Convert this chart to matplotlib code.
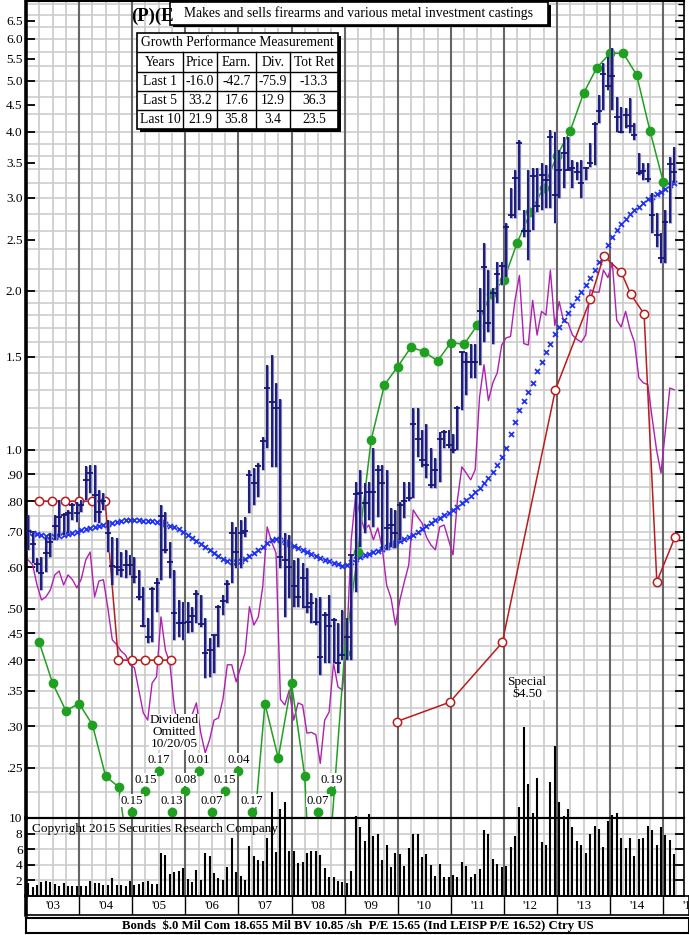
import numpy as np
import matplotlib.pyplot as plt
from matplotlib.patches import Rectangle
from matplotlib.ticker import FixedLocator
from matplotlib.transforms import blended_transform_factory

plt.rcParams['font.family'] = ['Liberation Serif', 'DejaVu Serif']

#%% monthly price bars, Jan 2003 .. Mar 2015
high = [.753, .696, .624, .627, .681, .696, .753, .804, .760, .770, .794, .797,
        .804, .933, .937, .937, .840, .830, .737, .684, .681, .641, .647, .633,
        .627, .593, .550, .481, .550, .573, .787, .763, .669, .593, .520, .515,
        .515, .505, .543, .531, .481, .441, .446, .509, .531, .567, .730, .715,
        .737, .747, .916, .925, .945, 1.06, 1.45, 1.51, 1.34, 1.25, .696, .690,
        .619, .624, .611, .598, .536, .525, .527, .494, .531, .481, .470, .498,
        .481, .633, .870, .916, .866, .870, 1.01, .937, .937, .916, .777, .770,
        .797, .870, .870, 1.20, 1.20, 1.09, 1.12, 1.01, .966, 1.08, 1.09, 1.09,
        1.07, 1.21, 1.53, 1.53, 1.59, 1.59, 2.03, 2.47, 2.19, 2.03, 2.27, 2.27,
        2.69, 3.13, 3.39, 3.86, 2.85, 3.39, 3.42, 3.42, 3.50, 3.47, 4.04, 4.00,
        3.70, 3.91, 3.91, 3.54, 3.51, 3.54, 3.44, 3.81, 4.17, 4.70, 5.41, 5.54,
        5.77, 4.66, 4.46, 4.44, 4.64, 4.16, 3.65, 3.50, 3.50, 3.07, 2.81, 2.57,
        2.85, 3.59, 3.75]
low = [.647, .611, .588, .543, .588, .627, .675, .684, .690, .696, .737, .730,
       .763, .804, .829, .730, .727, .770, .641, .555, .580, .575, .572, .580,
       .560, .520, .463, .431, .433, .493, .567, .638, .573, .437, .443, .437,
       .451, .452, .470, .463, .370, .372, .378, .424, .487, .513, .560, .598,
       .598, .684, .760, .787, .815, .916, 1.01, .929, .929, .598, .483, .525,
       .505, .505, .502, .491, .470, .466, .375, .395, .395, .395, .378, .400,
       .400, .400, .538, .655, .696, .737, .715, .747, .647, .647, .655, .652,
       .675, .743, .801, .811, .970, .929, .885, .847, .847, .870, 1.01, 1.01,
       .987, 1.00, 1.19, 1.27, 1.37, 1.37, 1.45, 1.60, 1.67, 1.59, 1.90, 2.05,
       2.13, 2.75, 2.75, 2.85, 2.53, 2.29, 2.61, 2.82, 2.85, 2.87, 2.87, 2.69,
       3.00, 3.13, 3.39, 3.13, 3.25, 3.00, 3.25, 3.44, 3.47, 4.16, 4.41, 4.81,
       4.41, 4.00, 3.98, 4.07, 3.98, 3.86, 3.31, 3.25, 3.22, 2.57, 2.42, 2.26,
       2.26, 2.69, 3.20]
close = [.703, .663, .608, .585, .638, .669, .718, .747, .753, .760, .787, .760,
         .787, .877, .904, .822, .763, .800, .696, .603, .600, .593, .605, .605,
         .575, .527, .465, .443, .546, .560, .750, .647, .614, .491, .470, .470,
         .472, .485, .534, .468, .413, .418, .446, .505, .518, .558, .696, .641,
         .696, .703, .897, .866, .933, 1.04, 1.31, 1.23, 1.20, .627, .619, .600,
         .553, .527, .573, .505, .513, .472, .406, .487, .465, .477, .395, .409,
         .443, .633, .826, .829, .794, .833, .833, .916, .866, .712, .721, .696,
         .787, .801, .811, 1.12, 1.05, .957, .937, .858, .916, 1.05, 1.08, 1.02,
         1.00, 1.20, 1.53, 1.47, 1.47, 1.47, 1.83, 2.22, 1.74, 1.98, 2.15, 2.23,
         2.64, 2.79, 3.27, 3.81, 2.60, 2.60, 3.30, 2.90, 3.31, 3.24, 3.91, 3.04,
         3.39, 3.65, 3.39, 3.42, 3.36, 3.20, 3.42, 3.50, 4.15, 4.39, 5.15, 4.89,
         5.10, 4.27, 4.00, 4.31, 4.11, 3.95, 3.34, 3.38, 3.26, 2.79, 2.55, 2.31,
         2.70, 3.48, 3.36]

# moving average (blue x) and relative strength (magenta), monthly
avg = [.700, .696, .693, .690, .687, .687, .684, .687, .690, .693, .696, .700,
       .706, .709, .712, .715, .718, .721, .724, .727, .731, .734, .737, .737,
       .737, .737, .734, .734, .734, .731, .731, .724, .718, .715, .709, .700,
       .690, .682, .673, .664, .655, .647, .638, .630, .622, .616, .614, .614,
       .616, .622, .630, .638, .647, .655, .667, .676, .679, .676, .670, .664,
       .658, .653, .647, .641, .636, .630, .625, .619, .616, .611, .608, .603,
       .606, .614, .622, .627, .633, .636, .641, .644, .650, .655, .661, .667,
       .673, .679, .684, .690, .700, .709, .718, .727, .737, .744, .753, .760,
       .770, .780, .794, .804, .818, .833, .847, .866, .885, .909, .937, .970,
       1.01, 1.07, 1.13, 1.19, 1.24, 1.29, 1.34, 1.41, 1.47, 1.53, 1.59, 1.66,
       1.71, 1.76, 1.82, 1.88, 1.94, 1.99, 2.05, 2.12, 2.19, 2.27, 2.34, 2.44,
       2.53, 2.61, 2.68, 2.74, 2.80, 2.85, 2.88, 2.94, 2.99, 3.01, 3.05, 3.08,
       3.12, 3.18, 3.20]
rel = [.619, .606, .555, .520, .527, .543, .580, .590, .555, .580, .568, .548,
       .570, .619, .641, .527, .565, .568, .502, .437, .428, .416, .409, .392,
       .387, .351, .318, .308, .362, .372, .483, .418, .395, .327, .295, .277,
       .289, .315, .332, .291, .267, .283, .308, .311, .337, .392, .392, .364,
       .388, .413, .505, .466, .483, .551, .715, .670, .638, .337, .329, .351,
       .308, .332, .329, .291, .292, .289, .255, .308, .319, .395, .356, .351,
       .437, .676, .822, .753, .706, .721, .676, .712, .653, .555, .524, .466,
       .520, .563, .606, .770, .747, .727, .684, .661, .647, .715, .721, .676,
       .633, .804, .929, .904, .878, .917, 1.26, 1.45, 1.24, 1.34, 1.40, 1.58,
       1.63, 1.64, 1.92, 2.14, 1.59, 1.58, 1.92, 1.65, 1.83, 1.80, 2.19, 1.72,
       1.91, 1.75, 1.74, 1.65, 1.62, 1.60, 1.65, 2.01, 1.99, 1.99, 2.19, 2.12,
       2.26, 1.76, 1.71, 1.83, 1.69, 1.60, 1.37, 1.34, 1.33, 1.15, 1.00, .904,
       1.09, 1.31, 1.30]

# monthly volume (millions)
volume = [1.7, 1.15, 1.45, 1.8, 1.9, 1.8, 1.6, 1.3, 1.7, 1.3, 1.3, 1.3,
          1.3, 1.3, 1.9, 1.7, 1.7, 1.45, 1.45, 2.3, 1.45, 1.45, 1.3, 1.9,
          1.45, 1.6, 1.75, 1.9, 1.5, 1.6, 5.5, 5.3, 2.8, 3.1, 3.2, 3.6,
          2.2, 1.8, 3.3, 2.0, 5.5, 5.1, 3.0, 2.3, 2.0, 3.7, 7.5, 3.1,
          2.6, 2.0, 6.4, 5.1, 4.6, 4.5, 7.4, 13.3, 5.7, 11.1, 12.0, 5.8,
          5.8, 4.2, 4.3, 5.5, 5.8, 5.8, 5.3, 3.6, 2.4, 2.4, 1.9, 1.8,
          1.7, 3.2, 10.3, 8.8, 7.1, 10.5, 7.7, 7.9, 4.6, 6.6, 3.7, 5.5,
          5.4, 3.8, 6.2, 7.9, 7.9, 5.0, 5.4, 4.0, 2.6, 4.1, 2.5, 2.5,
          2.7, 2.5, 4.3, 3.8, 2.4, 2.8, 3.4, 8.4, 8.0, 4.7, 4.1, 3.7,
          3.9, 6.3, 7.7, 11.4, 21.7, 14.3, 10.7, 15.1, 6.9, 6.5, 14.6, 19.2,
          12.0, 10.2, 11.1, 8.8, 7.0, 6.6, 5.5, 8.0, 9.0, 8.6, 6.3, 9.6,
          10.4, 10.6, 7.4, 6.2, 7.4, 5.1, 7.3, 7.4, 9.0, 8.4, 6.6, 8.8,
          7.8, 7.2, 5.4]

# quarterly earnings, Mar 2003 .. Dec 2014
eps = [.432, .362, .321, .331, .302, .241, .230, .15, .15, .17, .13, .08,
       .01, .07, .15, .04, .17, .331, .261, .362, .241, .07, .19, .412,
       .642, 1.045, 1.328, 1.438, 1.565, 1.535, 1.474, 1.596, 1.585, 1.724, 1.974, 2.098,
       2.469, 2.818, 3.140, 3.607, 4.023, 4.735, 5.294, 5.637, 5.637, 5.128, 4.023, 3.221]

# dividends (annual rate)
div_t1 = [2003.24, 2003.49, 2003.74, 2003.99, 2004.24, 2004.49,
          2004.74, 2004.99, 2005.24, 2005.49, 2005.74]
div_v1 = [.80, .80, .80, .80, .80, .80, .40, .40, .40, .40, .40]
div_omit_t = 2005.80
div_t2 = [2009.98, 2010.98, 2011.97, 2012.97, 2013.63, 2013.88,
          2014.21, 2014.39, 2014.64, 2014.88, 2015.22]
div_v2 = [.306, .333, .432, 1.30, 1.93, 2.33, 2.17, 1.97, 1.81, .563, .683]

years = ["'03", "'04", "'05", "'06", "'07", "'08", "'09", "'10",
         "'11", "'12", "'13", "'14", "'15"]
price_ticks = [6.5, 6.0, 5.5, 5.0, 4.5, 4.0, 3.5, 3.0, 2.5, 2.0, 1.5, 1.0,
               .90, .80, .70, .60, .50, .45, .40, .35, .30, .25]
price_labels = ['6.5', '6.0', '5.5', '5.0', '4.5', '4.0', '3.5', '3.0', '2.5',
                '2.0', '1.5', '1.0', '.90', '.80', '.70', '.60', '.50', '.45',
                '.40', '.35', '.30', '.25']
vol_ticks = [2, 4, 6, 8, 10]

growth_cols = ['Years', 'Price', 'Earn.', 'Div.', 'Tot Ret']
growth_rows = ['Last 1', 'Last 5', 'Last 10']
growth_price = [-16.0, 33.2, 21.9]
growth_earn = [-42.7, 17.6, 35.8]
growth_div = [-75.9, 12.9, 3.4]
growth_tot = [-13.3, 36.3, 23.5]

t_month = 2003 + (np.arange(len(high)) + 0.5) / 12
t_qtr = 2003.25 + 0.25 * np.arange(len(eps))

#%% figure layout (pixel boxes)
W, H = 689, 935
fig = plt.figure(figsize=(W / 100, H / 100), dpi=100)


def box(l, t, r, b):
    return [l / W, 1 - b / H, (r - l) / W, (b - t) / H]


PX_YEAR = 53.1
x0 = 2003.0
x1 = x0 + 658 / PX_YEAR
light = '#c9c9c9'
dark = '#666666'
navy = '#14147a'
green = '#20a020'
red = '#b81c1c'
purple = '#b020b0'

#%% price panel
ax = fig.add_axes(box(26, 1, 684, 818))
ax.set_yscale('log')
ax.set_ylim(0.201, 7.08)
ax.set_xlim(x0, x1)
ax.set_zorder(1)

grid_vals = np.concatenate([np.arange(0.2, 0.7, 0.025), np.arange(0.7, 1.0, 0.05),
                            np.arange(1.0, 2.0, 0.1), np.arange(2.0, 4.0, 0.2),
                            np.arange(4.0, 7.2, 1 / 3)])
for g in grid_vals:
    ax.axhline(g, color=light, lw=1.1, zorder=0.5)
for q in np.arange(x0 + 0.25, x1, 0.25):
    if abs(q - round(q)) < 1e-6:
        ax.axvline(q, color=dark, lw=1.5, zorder=0.6)
    else:
        ax.axvline(q, color=light, lw=1.2, zorder=0.5)

ax.set_yticks(price_ticks, labels=price_labels)
ax.yaxis.set_minor_locator(FixedLocator(grid_vals))
ax.set_xticks([])
ax.tick_params(axis='y', which='major', direction='in', length=6.5, width=1.3,
               right=True, labelsize=9.5, pad=2.5)
ax.tick_params(axis='y', which='minor', direction='in', length=4, width=1.0,
               left=False, right=True, labelleft=False)
ax.spines['left'].set_linewidth(2.6)
ax.spines['top'].set_linewidth(1.5)
ax.spines['right'].set_linewidth(1.2)
ax.spines['bottom'].set_linewidth(1.5)

# relative strength and moving average
ax.plot(t_month, rel, color=purple, lw=1.0, zorder=2)
ax.plot(t_month, avg, ls='none', marker='x', ms=3.6, mew=1.3, color='#2233ee', zorder=2.5)

# dividends
ax.plot(div_t1 + [div_omit_t], div_v1 + [div_v1[-1]], color=red, lw=1.1, zorder=3)
ax.plot(div_t1, div_v1, ls='none', marker='o', ms=6, mfc='white', mec=red, mew=1.1, zorder=3.1)
ax.plot(div_t2, div_v2, color=red, lw=1.1, marker='o', ms=6, mfc='white', mec=red,
        mew=1.1, zorder=3)

# earnings
eps = np.array(eps)
ax.plot(t_qtr, eps, color=green, lw=1.1, zorder=3)
ymin = ax.get_ylim()[0]
on = eps >= ymin
ax.plot(t_qtr[on], eps[on], ls='none', marker='o', ms=6, color=green, zorder=3.2)
trans = blended_transform_factory(ax.transData, ax.transAxes)
stagger = [0.0075, 0.033, 0.058]
run = 0
for tq, v in zip(t_qtr, eps):
    if v >= ymin:
        run = 0
        continue
    yf = stagger[run % 3]
    run += 1
    ax.plot(tq, yf, marker='o', ms=6, color=green, transform=trans, zorder=3.2, clip_on=False)
    ax.annotate('%.2f' % v, (tq, yf), xycoords=trans, xytext=(0, 8),
                textcoords='offset points', ha='center', va='center', fontsize=9.2,
                bbox=dict(fc='white', ec='none', pad=0.4), zorder=5)

# price bars
ax.vlines(t_month, low, high, color='#8080b8', lw=2.3, zorder=4)
ax.vlines(t_month, low, high, color=navy, lw=1.3, zorder=4.1)
ax.plot(t_month, close, ls='none', marker='_', ms=5, mew=1.3, color=navy, zorder=4.2)

#%% volume panel (bars may rise into price area)
axv = fig.add_axes(box(26, 1, 684, 896))
axv.set_zorder(2)
axv.patch.set_alpha(0)
axv.set_xlim(x0, x1)
axv.set_ylim(0, 895 / 7.8)
axv.hlines([2, 4, 6, 8], x0, x1, color=light, lw=1.1, zorder=0.5)
axv.axhline(10, color='black', lw=1.5, zorder=0.7)
quarters = np.arange(x0 + 0.25, x1, 0.25)
yrs = quarters[np.abs(quarters - np.round(quarters)) < 1e-6]
qs = quarters[np.abs(quarters - np.round(quarters)) >= 1e-6]
axv.vlines(qs, 0, 10, color=light, lw=1.2, zorder=0.5)
axv.vlines(yrs, 0, 10, color=dark, lw=1.5, zorder=0.6)
axv.vlines(t_month, 0, volume, color='black', lw=1.5, zorder=3)
axv.set_yticks(vol_ticks, labels=[str(v) for v in vol_ticks])
axv.set_xticks([])
axv.tick_params(axis='y', direction='in', length=6.5, width=1.3, right=True,
                labelsize=9.5, pad=2.5)
axv.spines['top'].set_visible(False)
axv.spines['left'].set_bounds(0, 10)
axv.spines['left'].set_linewidth(2.6)
axv.spines['right'].set_bounds(0, 10)
axv.spines['right'].set_linewidth(1.2)
axv.spines['bottom'].set_linewidth(1.2)

#%% year label band
axx = fig.add_axes(box(26, 896, 689, 915))
axx.set_xlim(x0, x0 + 663 / PX_YEAR)
axx.set_ylim(0, 1)
axx.set_xticks([])
axx.set_yticks([])
axx.vlines(np.arange(2004, 2016), 0, 1, color='black', lw=1.0)
for i, lab in enumerate(years):
    axx.text(2003.5 + i, 0.45, lab, ha='center', va='center', fontsize=9.2, clip_on=True)
axx.spines['left'].set_linewidth(2.6)
for s in ['top', 'bottom', 'right']:
    axx.spines[s].set_linewidth(1.2)

#%% bottom info box
axb = fig.add_axes(box(26, 918, 689, 933))
axb.set_xticks([])
axb.set_yticks([])
for s in axb.spines.values():
    s.set_linewidth(1.5)
axb.text(0.5, 0.45, 'Bonds  $.0 Mil Com 18.655 Mil BV 10.85 /sh  P/E 15.65 (Ind LEISP P/E 16.52) Ctry US',
         ha='center', va='center', fontsize=9.2, fontweight='bold', transform=axb.transAxes)

#%% overlay for titles, table and notes (pixel coords)
ov = fig.add_axes([0, 0, 1, 1])
ov.set_zorder(10)
ov.set_xlim(0, W)
ov.set_ylim(H, 0)
ov.axis('off')

ov.text(131, 16, '(P)(E', fontsize=13.5, fontweight='bold', ha='left', va='center')
ov.add_patch(Rectangle((172.5, 4.5), 378, 22.5, fc='black', ec='none'))
ov.add_patch(Rectangle((170, 2), 378, 22.5, fc='white', ec='black', lw=1.2))
ov.text(359, 13.5, 'Makes and sells firearms and various metal investment castings',
        ha='center', va='center', fontsize=9.8)

# growth table
tl, tt, tr, tb = 137, 33, 338, 129
ov.add_patch(Rectangle((tl + 2.5, tt + 2.5), tr - tl, tb - tt, fc='black', ec='none'))
ov.add_patch(Rectangle((tl, tt), tr - tl, tb - tt, fc='white', ec='black', lw=1.2))
row_y = [33, 52, 72, 91, 110, 129]
col_x = [137, 183, 217, 256, 290, 338]
for y in row_y[1:-1]:
    ov.plot([tl, tr], [y, y], color='black', lw=1.0)
for x in col_x[1:-1]:
    ov.plot([x, x], [row_y[1], tb], color='black', lw=1.0)
ov.text((tl + tr) / 2, 42.5, 'Growth Performance Measurement', ha='center', va='center', fontsize=9.8)
cx = [(col_x[i] + col_x[i + 1]) / 2 for i in range(5)]
for i, c in enumerate(growth_cols):
    ov.text(cx[i], 62, c, ha='center', va='center', fontsize=9.8)
for r in range(3):
    cy = (row_y[r + 2] + row_y[r + 3]) / 2
    vals = [growth_rows[r], '%.1f' % growth_price[r], '%.1f' % growth_earn[r],
            '%.1f' % growth_div[r], '%.1f' % growth_tot[r]]
    for i, v in enumerate(vals):
        ov.text(cx[i], cy, v, ha='center', va='center', fontsize=9.8)

ov.text(174, 732, 'Dividend\nOmitted\n10/20/05', ha='center', va='center', fontsize=9.5,
        linespacing=0.95, bbox=dict(fc='white', ec='none', pad=0.5))
ov.text(527, 688, 'Special\n$4.50', ha='center', va='center', fontsize=9.5,
        linespacing=0.95, bbox=dict(fc='white', ec='none', pad=0.5))
ov.text(32, 829, 'Copyright 2015 Securities Research Company', ha='left', va='center',
        fontsize=9.5)

fig.savefig('out.png', dpi=100)
